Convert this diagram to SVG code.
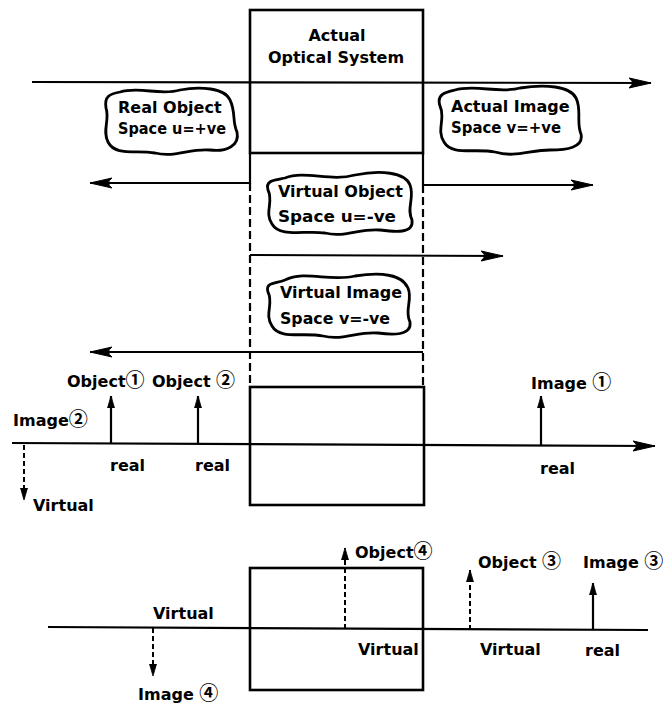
<svg xmlns="http://www.w3.org/2000/svg" width="666" height="707" viewBox="0 0 666 707">
  <style>
    text { font-family: "DejaVu Sans", "Liberation Sans", sans-serif; font-weight: bold; font-size: 16px; fill: #000; }
    .c { font-family: "Noto Sans CJK SC", "DejaVu Sans", sans-serif; font-size: 19px; font-weight: bold; }
    .box { fill: none; stroke: #000; stroke-width: 2.6; }
    .ln { fill: none; stroke: #000; stroke-width: 2.2; }
    .dash { fill: none; stroke: #000; stroke-width: 2.2; stroke-dasharray: 8 4; }
    .dsm { fill: none; stroke: #000; stroke-width: 2; stroke-dasharray: 5 3; }
    .blob { fill: none; stroke: #000; stroke-width: 2.8; stroke-linejoin: round; }
  </style>
  <defs>
    <marker id="big" markerUnits="userSpaceOnUse" markerWidth="26" markerHeight="14" refX="22" refY="6" orient="auto">
      <path d="M0,1 Q7,6 0,11 L22,6 Z" fill="#000" stroke="#000" stroke-width="1"/>
    </marker>
    <marker id="sm" markerUnits="userSpaceOnUse" markerWidth="14" markerHeight="10" refX="12" refY="4" orient="auto">
      <path d="M0,0.5 L12,4 L0,7.5 Z" fill="#000" stroke="#000" stroke-width="0.8"/>
    </marker>
  </defs>

  <g id="connectors">
    <line class="ln" x1="32" y1="82" x2="651" y2="83" marker-end="url(#big)"/>
    <polyline class="ln" points="250,153 250,183 90,183" marker-end="url(#big)"/>
    <polyline class="ln" points="423,153 423,185 593,185" marker-end="url(#big)"/>
    <line class="dash" x1="250" y1="183" x2="250" y2="387"/>
    <line class="dash" x1="423" y1="185" x2="423" y2="387"/>
    <line class="ln" x1="250" y1="255" x2="503" y2="256" marker-end="url(#big)"/>
    <line class="ln" x1="423" y1="352" x2="90" y2="352" marker-end="url(#big)"/>
    <line class="ln" x1="12" y1="443" x2="655" y2="446" marker-end="url(#big)"/>
    <line class="ln" x1="111" y1="443" x2="111" y2="396" marker-end="url(#sm)"/>
    <line class="ln" x1="198" y1="444" x2="198" y2="396" marker-end="url(#sm)"/>
    <line class="ln" x1="541" y1="445" x2="541" y2="396" marker-end="url(#sm)"/>
    <line class="dsm" x1="24" y1="445" x2="24" y2="500" marker-end="url(#sm)"/>
    <line class="ln" x1="48" y1="627" x2="648" y2="630"/>
    <line class="dsm" x1="153" y1="628" x2="153" y2="676" marker-end="url(#sm)"/>
    <line class="dsm" x1="345" y1="629" x2="345" y2="548" marker-end="url(#sm)"/>
    <line class="dsm" x1="470" y1="630" x2="470" y2="570" marker-end="url(#sm)"/>
    <line class="ln" x1="593" y1="630" x2="593" y2="583" marker-end="url(#sm)"/>
  </g>

  <g id="optical-system">
    <rect class="box" x="250" y="10" width="173" height="143"/>
    <text x="337" y="41" text-anchor="middle">Actual</text>
    <text x="336" y="63" text-anchor="middle">Optical System</text>
  </g>

  <g id="real-object-space">
    <path class="blob" d="M120 92 C140 86,160 96,180 90 C200 86,225 88,230 100 C236 112,232 122,237 132 C240 146,226 152,210 150 C190 148,175 158,155 153 C135 150,115 156,108 142 C102 130,110 120,106 108 C104 96,110 94,120 92 Z"/>
    <text x="118" y="113">Real Object</text>
    <text x="118" y="134" textLength="108" lengthAdjust="spacingAndGlyphs">Space u=+ve</text>
  </g>

  <g id="actual-image-space">
    <path class="blob" d="M455 90 C475 84,500 94,520 88 C545 84,570 86,576 98 C582 110,576 122,581 134 C584 148,566 150,550 150 C530 150,515 158,495 152 C475 148,452 156,444 142 C436 130,446 118,440 106 C436 94,446 92,455 90 Z"/>
    <text x="451" y="112">Actual Image</text>
    <text x="451" y="133" textLength="110" lengthAdjust="spacingAndGlyphs">Space v=+ve</text>
  </g>

  <g id="virtual-object-space">
    <path class="blob" d="M285 178 C305 170,330 182,355 175 C380 170,405 172,410 185 C415 198,406 208,412 220 C414 234,395 232,380 230 C360 228,345 238,325 233 C305 230,280 238,272 224 C264 212,274 202,268 190 C265 180,275 180,285 178 Z"/>
    <text x="278" y="197">Virtual Object</text>
    <text x="278" y="222" textLength="118" lengthAdjust="spacingAndGlyphs">Space u=-ve</text>
  </g>

  <g id="virtual-image-space">
    <path class="blob" d="M285 280 C305 270,330 282,355 276 C380 272,402 274,408 288 C413 300,404 310,410 322 C412 336,392 335,378 333 C358 331,343 341,323 336 C303 332,280 340,272 326 C264 314,274 304,268 292 C265 282,275 284,285 280 Z"/>
    <text x="280" y="298">Virtual Image</text>
    <text x="280" y="324" textLength="110" lengthAdjust="spacingAndGlyphs">Space v=-ve</text>
  </g>

  <g id="system-middle">
    <rect class="box" x="250" y="387" width="174" height="118"/>
  </g>

  <g id="labels-middle">
    <text x="67" y="387">Object<tspan class="c">①</tspan></text>
    <text x="152" y="387">Object <tspan class="c">②</tspan></text>
    <text x="13" y="426">Image<tspan class="c">②</tspan></text>
    <text x="531" y="389">Image <tspan class="c">①</tspan></text>
    <text x="110" y="471">real</text>
    <text x="195" y="471">real</text>
    <text x="540" y="474">real</text>
    <text x="33" y="511">Virtual</text>
  </g>

  <g id="system-bottom">
    <rect class="box" x="250" y="568" width="173" height="122"/>
  </g>

  <g id="labels-bottom">
    <text x="153" y="619">Virtual</text>
    <text x="138" y="700">Image <tspan class="c">④</tspan></text>
    <text x="355" y="558">Object<tspan class="c">④</tspan></text>
    <text x="478" y="568">Object <tspan class="c">③</tspan></text>
    <text x="583" y="568">Image <tspan class="c">③</tspan></text>
    <text x="358" y="655">Virtual</text>
    <text x="480" y="655">Virtual</text>
    <text x="585" y="656">real</text>
  </g>
</svg>
